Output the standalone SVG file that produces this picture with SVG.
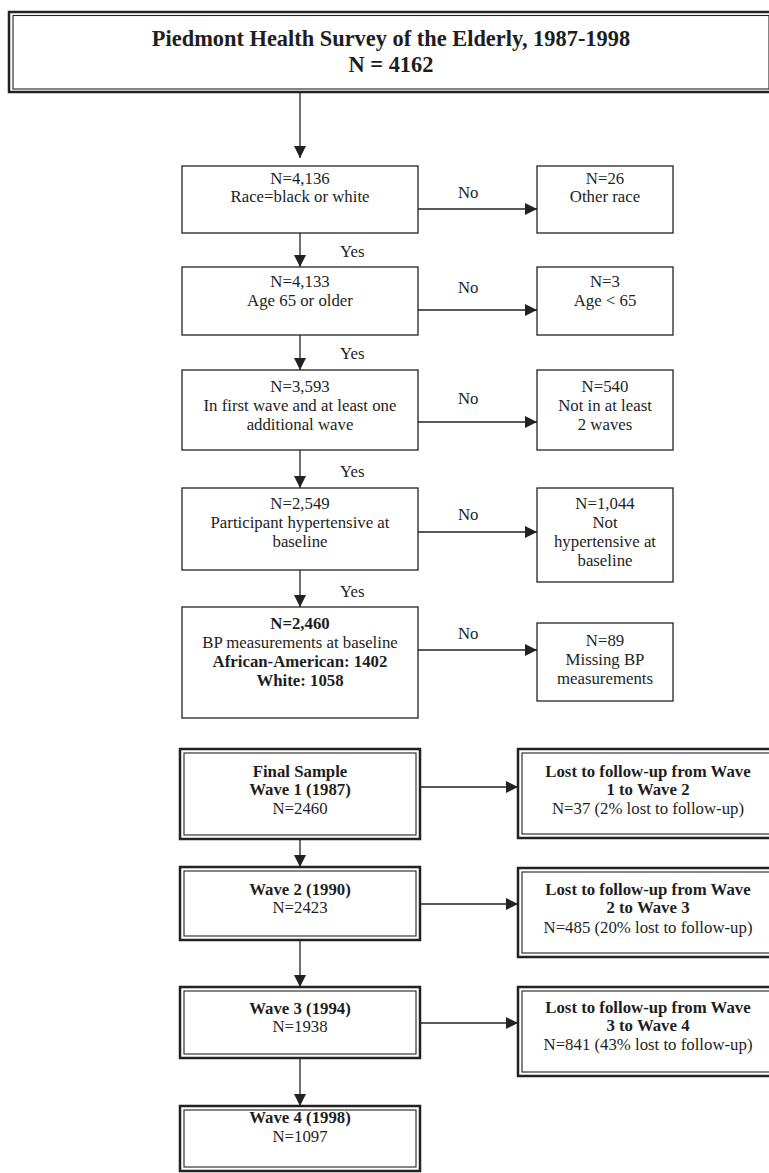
<svg xmlns="http://www.w3.org/2000/svg" width="769" height="1173" viewBox="0 0 769 1173">
<style>
text{font-family:"Liberation Serif","Times New Roman",serif;fill:#1e1e1e;font-size:16.8px}
.c{text-anchor:middle}
.b{font-weight:bold}
.t{font-size:22.4px;font-weight:bold}
.box{fill:#fff;stroke:#222;stroke-width:1.3}
.o{fill:#fff;stroke:#222;stroke-width:2.5}
.i{fill:none;stroke:#222;stroke-width:1.1}
.ln{fill:none;stroke:#222;stroke-width:1.3}
</style>
<defs>
<marker id="ah" markerUnits="userSpaceOnUse" markerWidth="13" markerHeight="13" refX="12" refY="6" orient="auto">
<path d="M0,0 L12,6 L0,12 Z" fill="#222"/>
</marker>
</defs>
<rect width="769" height="1173" fill="#fff"/>

<g id="connectors">
<line class="ln" x1="300" y1="92" x2="300" y2="158" marker-end="url(#ah)"/>
<line class="ln" x1="300" y1="233" x2="300" y2="267" marker-end="url(#ah)"/>
<line class="ln" x1="300" y1="335" x2="300" y2="370" marker-end="url(#ah)"/>
<line class="ln" x1="300" y1="450" x2="300" y2="488" marker-end="url(#ah)"/>
<line class="ln" x1="300" y1="570" x2="300" y2="607" marker-end="url(#ah)"/>
<line class="ln" x1="418" y1="209" x2="537" y2="209" marker-end="url(#ah)"/>
<line class="ln" x1="418" y1="310" x2="537" y2="310" marker-end="url(#ah)"/>
<line class="ln" x1="418" y1="422" x2="537" y2="422" marker-end="url(#ah)"/>
<line class="ln" x1="418" y1="532" x2="537" y2="532" marker-end="url(#ah)"/>
<line class="ln" x1="418" y1="650" x2="537" y2="650" marker-end="url(#ah)"/>
<line class="ln" x1="421" y1="787" x2="518" y2="787" marker-end="url(#ah)"/>
<line class="ln" x1="421" y1="904" x2="518" y2="904" marker-end="url(#ah)"/>
<line class="ln" x1="421" y1="1023" x2="518" y2="1023" marker-end="url(#ah)"/>
<line class="ln" x1="300" y1="840" x2="300" y2="867" marker-end="url(#ah)"/>
<line class="ln" x1="300" y1="941" x2="300" y2="987" marker-end="url(#ah)"/>
<line class="ln" x1="300" y1="1059" x2="300" y2="1106" marker-end="url(#ah)"/>
<text x="458" y="198">No</text>
<text x="458" y="293">No</text>
<text x="458" y="404">No</text>
<text x="458" y="520">No</text>
<text x="458" y="639">No</text>
<text x="340" y="257">Yes</text>
<text x="340" y="359">Yes</text>
<text x="340" y="477">Yes</text>
<text x="340" y="597">Yes</text>
</g>

<g id="top">
<rect class="o" x="9" y="12" width="764" height="80"/>
<rect class="i" x="13" y="15.5" width="756" height="73.5"/>
<text class="t c" x="391" y="46">Piedmont Health Survey of the Elderly, 1987-1998</text>
<text class="t c" x="391" y="72">N = 4162</text>
</g>

<g id="n1">
<rect class="box" x="182" y="166" width="236" height="67"/>
<text class="c" x="300" y="184">N=4,136</text>
<text class="c" x="300" y="202">Race=black or white</text>
</g>
<g id="r1">
<rect class="box" x="537" y="166" width="136" height="67"/>
<text class="c" x="605" y="184">N=26</text>
<text class="c" x="605" y="202">Other race</text>
</g>

<g id="n2">
<rect class="box" x="182" y="267" width="236" height="68"/>
<text class="c" x="300" y="287">N=4,133</text>
<text class="c" x="300" y="306">Age 65 or older</text>
</g>
<g id="r2">
<rect class="box" x="537" y="267" width="136" height="68"/>
<text class="c" x="605" y="287">N=3</text>
<text class="c" x="605" y="306">Age &lt; 65</text>
</g>

<g id="n3">
<rect class="box" x="182" y="370" width="236" height="80"/>
<text class="c" x="300" y="392">N=3,593</text>
<text class="c" x="300" y="411">In first wave and at least one</text>
<text class="c" x="300" y="430">additional wave</text>
</g>
<g id="r3">
<rect class="box" x="537" y="370" width="136" height="80"/>
<text class="c" x="605" y="392">N=540</text>
<text class="c" x="605" y="411">Not in at least</text>
<text class="c" x="605" y="430">2 waves</text>
</g>

<g id="n4">
<rect class="box" x="182" y="488" width="236" height="82"/>
<text class="c" x="300" y="509">N=2,549</text>
<text class="c" x="300" y="528">Participant hypertensive at</text>
<text class="c" x="300" y="547">baseline</text>
</g>
<g id="r4">
<rect class="box" x="537" y="488" width="136" height="94"/>
<text class="c" x="605" y="509">N=1,044</text>
<text class="c" x="605" y="528">Not</text>
<text class="c" x="605" y="547">hypertensive at</text>
<text class="c" x="605" y="566">baseline</text>
</g>

<g id="n5">
<rect class="box" x="182" y="607" width="236" height="111"/>
<text class="c b" x="300" y="629">N=2,460</text>
<text class="c" x="300" y="648">BP measurements at baseline</text>
<text class="c b" x="300" y="667">African-American: 1402</text>
<text class="c b" x="300" y="686">White: 1058</text>
</g>
<g id="r5">
<rect class="box" x="537" y="623" width="136" height="78"/>
<text class="c" x="605" y="646">N=89</text>
<text class="c" x="605" y="665">Missing BP</text>
<text class="c" x="605" y="684">measurements</text>
</g>

<g id="w1">
<rect class="o" x="180" y="749" width="240" height="90"/>
<rect class="i" x="184" y="753" width="232" height="82"/>
<text class="c b" x="300" y="777">Final Sample</text>
<text class="c b" x="300" y="795">Wave 1 (1987)</text>
<text class="c" x="300" y="814">N=2460</text>
</g>
<g id="l1">
<rect class="o" x="518" y="749" width="261" height="89"/>
<rect class="i" x="522" y="753" width="253" height="81"/>
<text class="c b" x="648" y="777">Lost to follow-up from Wave</text>
<text class="c b" x="648" y="795">1 to Wave 2</text>
<text class="c" x="648" y="814">N=37 (2% lost to follow-up)</text>
</g>

<g id="w2">
<rect class="o" x="180" y="867" width="240" height="73"/>
<rect class="i" x="184" y="871" width="232" height="65"/>
<text class="c b" x="300" y="895">Wave 2 (1990)</text>
<text class="c" x="300" y="913">N=2423</text>
</g>
<g id="l2">
<rect class="o" x="518" y="868" width="261" height="89"/>
<rect class="i" x="522" y="872" width="253" height="81"/>
<text class="c b" x="648" y="895">Lost to follow-up from Wave</text>
<text class="c b" x="648" y="913">2 to Wave 3</text>
<text class="c" x="648" y="933">N=485 (20% lost to follow-up)</text>
</g>

<g id="w3">
<rect class="o" x="180" y="987" width="240" height="71"/>
<rect class="i" x="184" y="991" width="232" height="63"/>
<text class="c b" x="300" y="1014">Wave 3 (1994)</text>
<text class="c" x="300" y="1032">N=1938</text>
</g>
<g id="l3">
<rect class="o" x="518" y="987" width="261" height="89"/>
<rect class="i" x="522" y="991" width="253" height="81"/>
<text class="c b" x="648" y="1013">Lost to follow-up from Wave</text>
<text class="c b" x="648" y="1031">3 to Wave 4</text>
<text class="c" x="648" y="1050">N=841 (43% lost to follow-up)</text>
</g>

<g id="w4">
<rect class="o" x="180" y="1106" width="240" height="65"/>
<rect class="i" x="184" y="1110" width="232" height="57"/>
<text class="c b" x="300" y="1123">Wave 4 (1998)</text>
<text class="c" x="300" y="1142">N=1097</text>
</g>
</svg>
